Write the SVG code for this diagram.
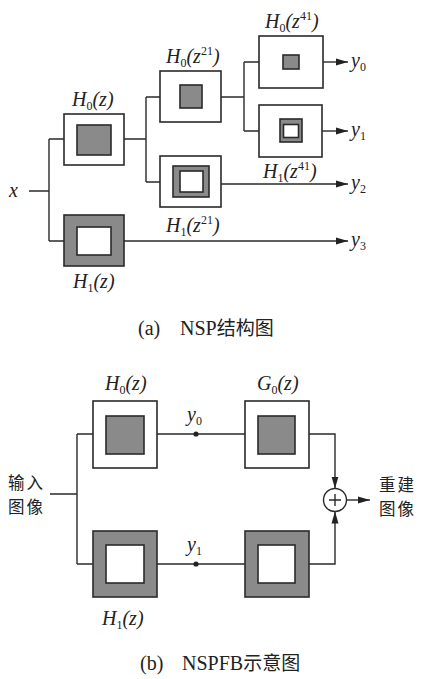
<svg xmlns="http://www.w3.org/2000/svg" width="422" height="679" viewBox="0 0 422 679">
<defs>
<style>
.bg{fill:#ffffff}
.ow{fill:#ffffff;stroke:#2a2a2a;stroke-width:1.6}
.og{fill:#8a8a8a;stroke:#2a2a2a;stroke-width:1.6}
.ln{fill:none;stroke:#2a2a2a;stroke-width:1.4}
.lb{font-style:italic;font-size:20px;fill:#222}
.sb{font-style:normal;font-size:12px}
.cap{font-size:20px;fill:#222}
.cjk{font-size:16.5px;letter-spacing:2px;fill:#222}
</style>
<marker id="ar" viewBox="0 0 12 8" refX="12" refY="4" markerWidth="12" markerHeight="8" markerUnits="userSpaceOnUse" orient="auto">
<path d="M0,0.5 L12,4 L0,7.5 Z" fill="#222"/>
</marker>
</defs>
<rect class="bg" x="0" y="0" width="422" height="679"/>

<g id="connectors-a">
<path class="ln" d="M29,191 H49 M49,139 V241 M49,139 H64 M49,241 H64"/>
<path class="ln" d="M124,139 H146 M146,97 V182 M146,97 H160 M146,182 H160"/>
<path class="ln" d="M221,97 H244 M244,62 V131 M244,62 H259 M244,131 H259"/>
<path class="ln" d="M323,62 H348" marker-end="url(#ar)"/>
<path class="ln" d="M322,131 H348" marker-end="url(#ar)"/>
<path class="ln" d="M221,184 H348" marker-end="url(#ar)"/>
<path class="ln" d="M124,241 H348" marker-end="url(#ar)"/>
</g>

<g font-family="Liberation Serif, Times New Roman, DejaVu Serif, serif">
<g id="x-label"><text class="lb" x="9" y="197">x</text></g>

<g id="a-H0z">
<rect class="ow" x="64" y="114" width="60" height="51"/>
<rect class="og" x="77" y="125" width="34" height="30"/>
<text class="lb" x="72" y="106">H<tspan class="sb" dy="4">0</tspan><tspan dy="-4">(z)</tspan></text>
</g>
<g id="a-H1z">
<rect class="og" x="64" y="215" width="60" height="51"/>
<rect class="ow" x="77" y="227" width="34" height="28"/>
<text class="lb" x="73" y="288">H<tspan class="sb" dy="4">1</tspan><tspan dy="-4">(z)</tspan></text>
</g>
<g id="a-H0z21">
<rect class="ow" x="160" y="71" width="61" height="51"/>
<rect class="og" x="180" y="85" width="22" height="23"/>
<text class="lb" x="166" y="63">H<tspan class="sb" dy="4">0</tspan><tspan dy="-4">(z</tspan><tspan class="sb" dy="-8">21</tspan><tspan dy="8">)</tspan></text>
</g>
<g id="a-H1z21">
<rect class="ow" x="160" y="156" width="61" height="51"/>
<rect class="og" x="173" y="166" width="36" height="31"/>
<rect class="ow" x="180" y="171" width="23" height="21"/>
<text class="lb" x="166" y="232">H<tspan class="sb" dy="4">1</tspan><tspan dy="-4">(z</tspan><tspan class="sb" dy="-8">21</tspan><tspan dy="8">)</tspan></text>
</g>
<g id="a-H0z41">
<rect class="ow" x="259" y="36" width="64" height="52"/>
<rect class="og" x="283" y="55" width="16" height="14"/>
<text class="lb" x="265" y="28">H<tspan class="sb" dy="4">0</tspan><tspan dy="-4">(z</tspan><tspan class="sb" dy="-8">41</tspan><tspan dy="8">)</tspan></text>
</g>
<g id="a-H1z41">
<rect class="ow" x="259" y="105" width="63" height="52"/>
<rect class="og" x="280" y="119" width="22" height="23"/>
<rect class="ow" x="283.5" y="124.5" width="15" height="13"/>
<text class="lb" x="263" y="178">H<tspan class="sb" dy="4">1</tspan><tspan dy="-4">(z</tspan><tspan class="sb" dy="-8">41</tspan><tspan dy="8">)</tspan></text>
</g>
<g id="a-outputs">
<text class="lb" x="351" y="67">y<tspan class="sb" dy="4">0</tspan></text>
<text class="lb" x="351" y="136">y<tspan class="sb" dy="4">1</tspan></text>
<text class="lb" x="351" y="189">y<tspan class="sb" dy="4">2</tspan></text>
<text class="lb" x="351" y="246">y<tspan class="sb" dy="4">3</tspan></text>
</g>
<g id="caption-a"><text class="cap" y="335"><tspan x="138">(a)</tspan><tspan x="180">NSP</tspan><tspan font-family="Noto Sans CJK SC, sans-serif" font-size="19">结构图</tspan></text></g>

<g id="connectors-b">
<path class="ln" d="M50,494 H77 M77,434 V564 M77,434 H93 M77,564 H93"/>
<path class="ln" d="M157,434 H245 M157,564 H245"/>
<circle cx="196" cy="434" r="2.6" fill="#222"/>
<circle cx="196" cy="564" r="2.6" fill="#222"/>
<path class="ln" d="M309,434 H335 V488.5" marker-end="url(#ar)"/>
<path class="ln" d="M309,564 H335 V511.5" marker-end="url(#ar)"/>
<path class="ln" d="M346.5,500 H370" marker-end="url(#ar)"/>
</g>
<g id="b-input"><text class="cjk" font-family="Noto Sans CJK SC, sans-serif"><tspan x="8" y="489">输入</tspan><tspan x="8" y="513">图像</tspan></text></g>
<g id="b-H0">
<rect class="ow" x="93" y="401" width="64" height="67"/>
<rect class="og" x="106" y="416" width="38" height="38"/>
<text class="lb" x="105" y="390">H<tspan class="sb" dy="4">0</tspan><tspan dy="-4">(z)</tspan></text>
</g>
<g id="b-H1">
<rect class="og" x="93" y="531" width="64" height="66"/>
<rect class="ow" x="106" y="545" width="38" height="38"/>
<text class="lb" x="102" y="625">H<tspan class="sb" dy="4">1</tspan><tspan dy="-4">(z)</tspan></text>
</g>
<g id="b-G0">
<rect class="ow" x="245" y="401" width="64" height="67"/>
<rect class="og" x="258" y="416" width="37" height="38"/>
<text class="lb" x="257" y="390">G<tspan class="sb" dy="4">0</tspan><tspan dy="-4">(z)</tspan></text>
</g>
<g id="b-G1">
<rect class="og" x="245" y="531" width="64" height="66"/>
<rect class="ow" x="258" y="545" width="37" height="38"/>
</g>
<g id="b-ylabels">
<text class="lb" x="187" y="421">y<tspan class="sb" dy="4">0</tspan></text>
<text class="lb" x="187" y="551">y<tspan class="sb" dy="4">1</tspan></text>
</g>
<g id="b-sum">
<circle cx="335" cy="500" r="11.5" fill="#fff" stroke="#2a2a2a" stroke-width="1.4"/>
<path class="ln" d="M329,500 H341 M335,494 V506"/>
</g>
<g id="b-output"><text class="cjk" font-family="Noto Sans CJK SC, sans-serif"><tspan x="379" y="491">重建</tspan><tspan x="379" y="515">图像</tspan></text></g>
<g id="caption-b"><text class="cap" y="670"><tspan x="140">(b)</tspan><tspan x="182">NSPFB</tspan><tspan font-family="Noto Sans CJK SC, sans-serif" font-size="19">示意图</tspan></text></g>
</g>
</svg>
